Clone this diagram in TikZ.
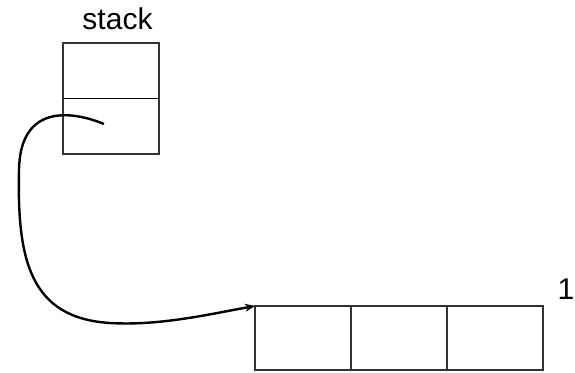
\documentclass[tikz,border=0pt]{standalone}
\usepackage{fontspec}
\setmainfont{Liberation Sans}
\usetikzlibrary{arrows.meta}
\begin{document}
\begin{tikzpicture}[x=1pt,y=1pt,
  cell/.style={draw=black!80,line width=1.3pt,minimum width=96pt,inner sep=0pt,outer sep=0pt},
  stackcell/.style={cell,minimum height=55.5pt},
  arraycell/.style={cell,minimum height=64pt},
  label/.style={font=\fontsize{30}{33}\selectfont,inner sep=0pt},
  link/.style={draw=black,line width=2.4pt,-{Stealth[length=10pt,width=8pt]}}]
\useasboundingbox (0,0) rectangle (575,-372);
% stack frame with two slots
\node[stackcell,anchor=north west] (s1) at (63,-43) {};
\node[stackcell,anchor=north] (s2) at (s1.south) {};
\draw[black,line width=1.8pt] (s1.south west) -- (s1.south east);
\node[label,anchor=base] (stacklbl) at (117.5,-29) {stack};
% array of three cells
\node[arraycell,anchor=north west] (a1) at (255,-306) {};
\node[arraycell,anchor=west] (a2) at (a1.east) {};
\node[arraycell,anchor=west] (a3) at (a2.east) {};
\node[label,anchor=base] (len) at (566,-299) {1};
% reference from the stack slot to the array
\coordinate (p) at (104,-124);
\path[link] (p) .. controls (70,-110) and (20,-105) .. (19,-170)
  .. controls (17,-260) and (30,-318) .. (110,-323)
  .. controls (160,-326) and (210,-314) .. (a1.north west);
\end{tikzpicture}
\end{document}
